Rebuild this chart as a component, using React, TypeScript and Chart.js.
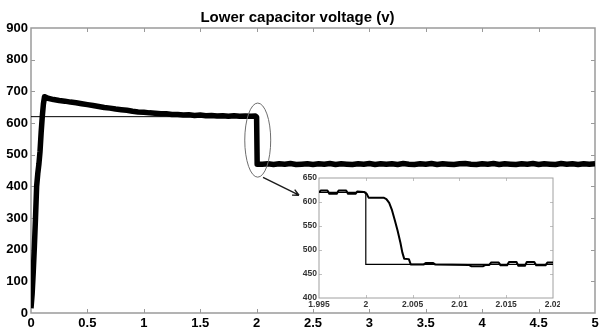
import React, { useEffect, useRef } from "react";
import { Chart, registerables } from "chart.js";

Chart.register(...registerables);

const chartTitle = "Lower capacitor voltage (v)";

// Main plot: measured voltage (thick noisy trace)
const mainTime = [
  0, 0.01, 0.02, 0.03, 0.04, 0.05, 0.06, 0.07, 0.08, 0.09, 0.1, 0.11, 0.12, 0.13,
  0.15, 0.2, 0.25, 0.3, 0.35, 0.4, 0.45, 0.5, 0.55, 0.6, 0.65, 0.7, 0.75, 0.8, 0.85, 0.9, 0.95,
  1.0, 1.05, 1.1, 1.15, 1.2, 1.25, 1.3, 1.35, 1.4, 1.45, 1.5, 1.55, 1.6, 1.65, 1.7, 1.75, 1.8,
  1.85, 1.9, 1.95,
  1.99, 2.0, 2.005,
  2.05, 2.1, 2.15, 2.2, 2.25, 2.3, 2.35, 2.4, 2.45, 2.5,
  2.55, 2.6, 2.65, 2.7, 2.75, 2.8, 2.85, 2.9, 2.95, 3.0,
  3.05, 3.1, 3.15, 3.2, 3.25, 3.3, 3.35, 3.4, 3.45, 3.5,
  3.55, 3.6, 3.65, 3.7, 3.75, 3.8, 3.85, 3.9, 3.95, 4.0,
  4.05, 4.1, 4.15, 4.2, 4.25, 4.3, 4.35, 4.4, 4.45, 4.5,
  4.55, 4.6, 4.65, 4.7, 4.75, 4.8, 4.85, 4.9, 4.95, 5.0,
];
const mainVolt = [
  15, 60, 130, 210, 300, 400, 440, 470, 510, 570, 620, 660, 683, 682,
  678, 674, 671, 669, 666, 664, 661, 658, 655, 652, 649, 647, 644, 642, 640, 637, 635,
  634, 632, 631, 629, 629, 627, 627, 625, 626, 624, 625, 623, 624, 622, 623, 621, 623,
  621, 622, 621,
  622, 619, 470,
  470, 471, 469, 471, 470, 472, 469, 470, 471, 469,
  471, 470, 472, 469, 471, 470, 469, 471, 470, 472,
  469, 471, 470, 471, 469, 472, 470, 469, 471, 470,
  472, 469, 471, 470, 469, 471, 472, 470, 469, 471,
  470, 472, 469, 471, 470, 469, 471, 470, 472, 469,
  471, 470, 469, 472, 470, 471, 469, 471, 470, 471,
];
// Main plot: reference voltage (thin trace)
const refTime = [0, 2, 2, 5];
const refVolt = [620, 620, 470, 470];

// Inset (zoom around t = 2 s)
const insetTime = [
  1.995, 1.9952, 1.9959, 1.9961, 1.9969, 1.9971, 1.9979, 1.9981, 1.9989, 1.9991, 1.9998,
  2.0001, 2.0003, 2.0019, 2.0022, 2.0025, 2.0028, 2.0031, 2.0034, 2.0037, 2.0039, 2.0041,
  2.0046, 2.0048, 2.0062, 2.0064, 2.0072, 2.0074, 2.011, 2.0113, 2.0125, 2.0128, 2.0132,
  2.0134, 2.0142, 2.0144, 2.0151, 2.0153, 2.0161, 2.0163, 2.017, 2.0172, 2.018, 2.0182,
  2.0192, 2.0194, 2.02,
];
const insetVolt = [
  620, 624, 624, 617, 617, 624, 624, 617, 617, 622, 621,
  617, 609, 609, 606, 598, 583, 562, 540, 515, 495, 482,
  481, 470, 470, 473, 473, 470, 469, 466, 466, 469, 469,
  474, 474, 468, 468, 475, 475, 467, 467, 475, 475, 468,
  468, 474, 474,
];
const insetRefTime = [1.995, 2.0, 2.0, 2.02];
const insetRefVolt = [620, 620, 470, 470];

// Annotation (ellipse around the step, arrow to inset) in data units
const ellipseCenter = [2.01, 546];
const ellipseRadius = [0.115, 117];
const arrowFrom = [2.057, 428];
const arrowTo = [2.376, 372];

const FONT = "'Liberation Sans', Arial, Helvetica, sans-serif";

const toXY = (xs: number[], ys: number[]) => xs.map((x, i) => ({ x, y: ys[i] }));
const fmt = (digits: number) => (v: any) => String(+Number(v).toFixed(digits));

function framePlugin(id: string, frameColor: string, frameWidth: number, tickColor: string, tickLen: number) {
  return {
    id,
    beforeDraw(chart: any) {
      const { ctx, chartArea: a } = chart;
      ctx.save();
      ctx.fillStyle = "#ffffff";
      ctx.fillRect(a.left, a.top, a.right - a.left, a.bottom - a.top);
      ctx.restore();
    },
    beforeDatasetsDraw(chart: any) {
      const { ctx, chartArea: a, scales } = chart;
      ctx.save();
      ctx.strokeStyle = tickColor;
      ctx.lineWidth = 1;
      ctx.beginPath();
      scales.x.ticks.forEach((t: any) => {
        const px = Math.round(scales.x.getPixelForValue(t.value)) + 0.5;
        if (px <= a.left + 2 || px >= a.right - 2) return;
        ctx.moveTo(px, a.bottom);
        ctx.lineTo(px, a.bottom - tickLen);
        ctx.moveTo(px, a.top);
        ctx.lineTo(px, a.top + tickLen);
      });
      scales.y.ticks.forEach((t: any) => {
        const py = Math.round(scales.y.getPixelForValue(t.value)) + 0.5;
        if (py <= a.top + 2 || py >= a.bottom - 2) return;
        ctx.moveTo(a.left, py);
        ctx.lineTo(a.left + tickLen, py);
        ctx.moveTo(a.right, py);
        ctx.lineTo(a.right - tickLen, py);
      });
      ctx.stroke();
      ctx.strokeStyle = frameColor;
      ctx.lineWidth = frameWidth;
      ctx.strokeRect(a.left, a.top, a.right - a.left, a.bottom - a.top);
      ctx.restore();
    },
  };
}

const annotationPlugin = {
  id: "ellipseArrow",
  afterDatasetsDraw(chart: any) {
    const { ctx, scales } = chart;
    const x = scales.x;
    const y = scales.y;
    const cx = x.getPixelForValue(ellipseCenter[0]);
    const cy = y.getPixelForValue(ellipseCenter[1]);
    const rx = Math.abs(x.getPixelForValue(ellipseCenter[0] + ellipseRadius[0]) - cx);
    const ry = Math.abs(y.getPixelForValue(ellipseCenter[1] + ellipseRadius[1]) - cy);
    ctx.save();
    ctx.strokeStyle = "#6e6e6e";
    ctx.lineWidth = 1;
    ctx.beginPath();
    ctx.ellipse(cx, cy, rx, ry, 0, 0, Math.PI * 2);
    ctx.stroke();

    const x1 = x.getPixelForValue(arrowFrom[0]);
    const y1 = y.getPixelForValue(arrowFrom[1]);
    const x2 = x.getPixelForValue(arrowTo[0]);
    const y2 = y.getPixelForValue(arrowTo[1]);
    const ang = Math.atan2(y2 - y1, x2 - x1);
    ctx.strokeStyle = "#1a1a1a";
    ctx.lineWidth = 1.4;
    ctx.beginPath();
    ctx.moveTo(x1, y1);
    ctx.lineTo(x2, y2);
    const head = 7;
    ctx.moveTo(x2, y2);
    ctx.lineTo(x2 - head * Math.cos(ang - 0.45), y2 - head * Math.sin(ang - 0.45));
    ctx.moveTo(x2, y2);
    ctx.lineTo(x2 - head * Math.cos(ang + 0.45), y2 - head * Math.sin(ang + 0.45));
    ctx.stroke();
    ctx.restore();
  },
};

export default function App() {
  const mainRef = useRef<HTMLCanvasElement>(null);
  const insetRef = useRef<HTMLCanvasElement>(null);

  useEffect(() => {
    const main = new Chart(mainRef.current as HTMLCanvasElement, {
      type: "line",
      data: {
        datasets: [
          {
            data: toXY(refTime, refVolt),
            borderColor: "#000",
            borderWidth: 1,
            pointRadius: 0,
            tension: 0,
          },
          {
            data: toXY(mainTime, mainVolt),
            borderColor: "#000",
            borderWidth: 5.5,
            pointRadius: 0,
            tension: 0,
            borderJoinStyle: "round",
          },
        ],
      },
      options: {
        responsive: false,
        animation: false,
        events: [],
        layout: { padding: { left: 0, right: 4, top: 0, bottom: 0 } },
        plugins: {
          legend: { display: false },
          tooltip: { enabled: false },
          title: {
            display: true,
            text: chartTitle,
            color: "#000",
            font: { family: FONT, size: 15, weight: "bold" },
            padding: { top: 9, bottom: 1 },
          },
        },
        scales: {
          x: {
            type: "linear",
            min: 0,
            max: 5,
            grid: { display: false, drawTicks: false },
            border: { display: false },
            ticks: {
              stepSize: 0.5,
              color: "#000",
              padding: 3,
              font: { family: FONT, size: 13, weight: "bold" },
              maxRotation: 0,
              callback: fmt(2),
            },
            afterFit: (s: any) => {
              s.height = 17;
              s.paddingLeft = 0;
              s.paddingRight = 0;
            },
          },
          y: {
            type: "linear",
            min: 0,
            max: 900,
            grid: { display: false, drawTicks: false },
            border: { display: false },
            ticks: {
              stepSize: 100,
              color: "#000",
              padding: 3,
              font: { family: FONT, size: 13, weight: "bold" },
              callback: fmt(0),
            },
            afterFit: (s: any) => {
              s.width = 31;
              s.paddingTop = 0;
              s.paddingBottom = 0;
            },
          },
        },
      } as any,
      plugins: [framePlugin("mainFrame", "#9a9a9a", 1.5, "#9a9a9a", 4), annotationPlugin],
    });

    const inset = new Chart(insetRef.current as HTMLCanvasElement, {
      type: "line",
      data: {
        datasets: [
          {
            data: toXY(insetRefTime, insetRefVolt),
            borderColor: "#000",
            borderWidth: 1.2,
            pointRadius: 0,
            tension: 0,
          },
          {
            data: toXY(insetTime, insetVolt),
            borderColor: "#000",
            borderWidth: 2,
            pointRadius: 0,
            tension: 0,
            borderJoinStyle: "round",
          },
        ],
      },
      options: {
        responsive: false,
        animation: false,
        events: [],
        layout: { padding: { left: 0, right: 7, top: 10, bottom: 0 } },
        plugins: {
          legend: { display: false },
          tooltip: { enabled: false },
          title: { display: false },
        },
        scales: {
          x: {
            type: "linear",
            min: 1.995,
            max: 2.02,
            grid: { display: false, drawTicks: false },
            border: { display: false },
            ticks: {
              stepSize: 0.005,
              color: "#333",
              padding: 2,
              font: { family: FONT, size: 8.5, weight: "bold" },
              maxRotation: 0,
              callback: fmt(3),
            },
            afterFit: (s: any) => {
              s.height = 15;
              s.paddingLeft = 0;
              s.paddingRight = 0;
            },
          },
          y: {
            type: "linear",
            min: 400,
            max: 650,
            grid: { display: false, drawTicks: false },
            border: { display: false },
            ticks: {
              stepSize: 50,
              color: "#333",
              padding: 2,
              font: { family: FONT, size: 8.5, weight: "bold" },
              callback: fmt(0),
            },
            afterFit: (s: any) => {
              s.width = 29;
              s.paddingTop = 0;
              s.paddingBottom = 0;
            },
          },
        },
      } as any,
      plugins: [framePlugin("insetFrame", "#a0a0a0", 1, "#c0c0c0", 3)],
    });

    return () => {
      main.destroy();
      inset.destroy();
    };
  }, []);

  return (
    <div style={{ position: "absolute", left: 0, top: 0, width: 599, height: 330, background: "#fff" }}>
      <canvas
        ref={mainRef}
        width={599}
        height={330}
        style={{ position: "absolute", left: 0, top: 0, width: 599, height: 330, display: "block" }}
      />
      <canvas
        ref={insetRef}
        width={270}
        height={145}
        style={{ position: "absolute", left: 290, top: 168, width: 270, height: 145, display: "block" }}
      />
    </div>
  );
}
